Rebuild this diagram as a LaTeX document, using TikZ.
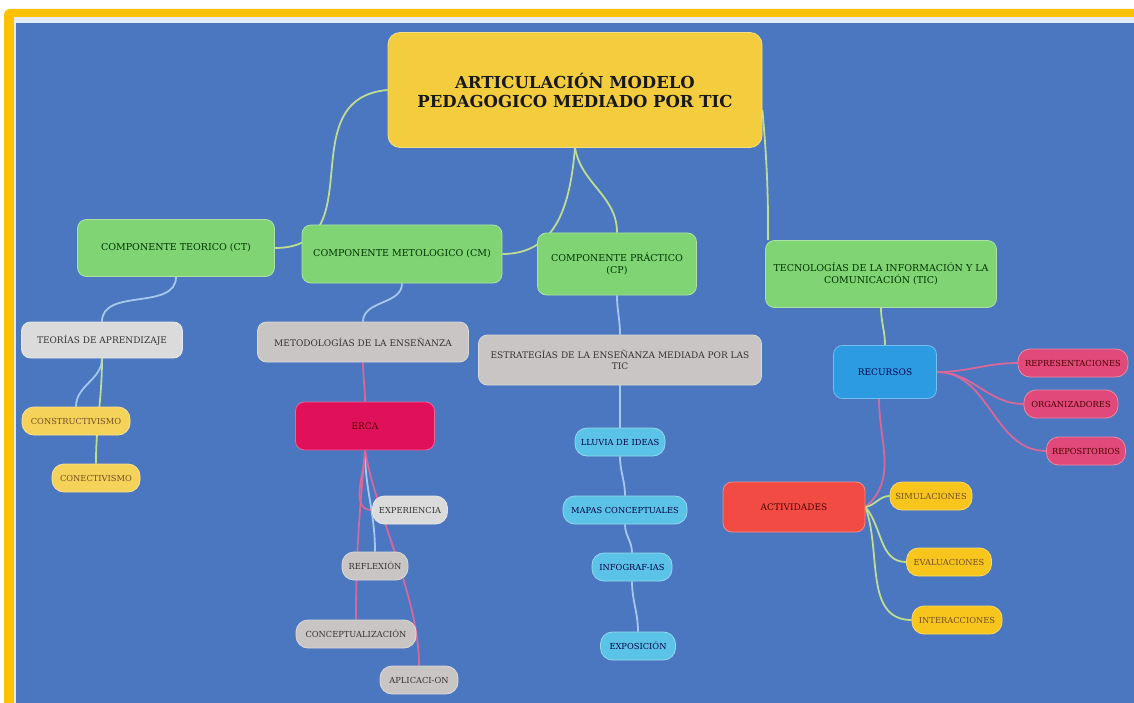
\documentclass[tikz,border=0pt]{standalone}
\usepackage{fontspec}
\setmainfont{DejaVu Serif}
\usetikzlibrary{backgrounds}

\definecolor{bgblue}{HTML}{4A77BF}
\definecolor{frameyel}{HTML}{FFC000}
\definecolor{titleyel}{HTML}{F3CD3E}
\definecolor{compgreen}{HTML}{80D474}
\definecolor{lightgray}{HTML}{DADBDA}
\definecolor{midgray}{HTML}{C8C5C4}
\definecolor{ercared}{HTML}{E0105A}
\definecolor{recblue}{HTML}{2C9BE2}
\definecolor{pinkish}{HTML}{E0497A}
\definecolor{actred}{HTML}{F24B43}
\definecolor{pillyel}{HTML}{F7C51C}
\definecolor{softyel}{HTML}{F5D35A}
\definecolor{cyanish}{HTML}{5CC3E8}
\definecolor{linkgreen}{HTML}{BEDC92}
\definecolor{linkblue}{HTML}{A6C8EE}
\definecolor{linkpink}{HTML}{D8679A}

\pgfdeclarelayer{links}
\pgfsetlayers{background,links,main}

\begin{document}
\begin{tikzpicture}[x=1pt, y=-1pt,
	box/.style={rectangle, rounded corners=9pt, align=center, inner sep=2pt, text=black!80, font=\fontsize{9}{11}\selectfont, draw=white!35!#1, line width=0.8pt, fill=#1},
	compbox/.style={box=compgreen, text=green!20!black, font=\fontsize{9.5}{11.5}\selectfont},
	pill/.style={rectangle, rounded corners=12pt, align=center, inner sep=2pt, minimum height=28pt, text=black!80, font=\fontsize{8.3}{10}\selectfont, draw=white!35!#1, line width=0.8pt, fill=#1},
	link/.style={line width=1.8pt, #1},
	link/.default=linkblue]
	\useasboundingbox (0,0) rectangle (1134,703);
	\begin{pgfonlayer}{background}
		\fill[white] (0,0) rectangle (1134,703);
		\fill[frameyel, rounded corners=6pt] (4,9) rectangle (1150,720);
		\fill[white!85!bgblue] (14,17) rectangle (1150,720);
		\fill[bgblue] (16,23) rectangle (1150,720);
	\end{pgfonlayer}

	\node[box=titleyel, minimum width=374pt, minimum height=115pt, rounded corners=12pt, font=\fontsize{16.5}{19}\selectfont\bfseries, text=black!90] (title) at (575,90) {ARTICULACIÓN MODELO\\PEDAGOGICO MEDIADO POR TIC};

	\node[compbox, minimum width=197pt, minimum height=57pt] (ct) at (176,248) {COMPONENTE TEORICO (CT)};
	\node[compbox, minimum width=200pt, minimum height=58pt] (cm) at (402,254) {COMPONENTE METOLOGICO (CM)};
	\node[compbox, minimum width=159pt, minimum height=62pt] (cp) at (617,264) {COMPONENTE PRÁCTICO\\(CP)};
	\node[compbox, minimum width=231pt, minimum height=67pt] (tic) at (881,274) {TECNOLOGÍAS DE LA INFORMACIÓN Y LA\\COMUNICACIÓN (TIC)};

	\node[box=lightgray, minimum width=161pt, minimum height=36pt] (teorias) at (102,340) {TEORÍAS DE APRENDIZAJE};
	\node[pill=softyel, minimum width=108pt, text=brown!60!black] (constr) at (76,421) {CONSTRUCTIVISMO};
	\node[pill=softyel, minimum width=88pt, text=brown!60!black] (conect) at (96,478) {CONECTIVISMO};

	\node[box=midgray, minimum width=211pt, minimum height=40pt] (metod) at (363,342) {METODOLOGÍAS DE LA ENSEÑANZA};
	\node[box=ercared, minimum width=139pt, minimum height=48pt, text=red!30!black] (erca) at (365,426) {ERCA};
	\node[pill=lightgray, minimum width=75pt] (exper) at (410,510) {EXPERIENCIA};
	\node[pill=midgray, minimum width=66pt] (reflex) at (375,566) {REFLEXIÓN};
	\node[pill=midgray, minimum width=120pt] (concep) at (356,634) {CONCEPTUALIZACIÓN};
	\node[pill=midgray, minimum width=78pt] (aplic) at (419,680) {APLICACI-ON};

	\node[box=midgray, minimum width=283pt, minimum height=50pt] (estrat) at (620,360) {ESTRATEGÍAS DE LA ENSEÑANZA MEDIADA POR LAS\\TIC};
	\node[pill=cyanish, minimum width=90pt, text=blue!25!black] (lluvia) at (620,442) {LLUVIA DE IDEAS};
	\node[pill=cyanish, minimum width=124pt, text=blue!25!black] (mapas) at (625,510) {MAPAS CONCEPTUALES};
	\node[pill=cyanish, minimum width=80pt, text=blue!25!black] (infog) at (632,567) {INFOGRAF-IAS};
	\node[pill=cyanish, minimum width=75pt, text=blue!25!black] (expos) at (638,646) {EXPOSICIÓN};

	\node[box=recblue, minimum width=103pt, minimum height=53pt, text=blue!30!black] (recursos) at (885,372) {RECURSOS};
	\node[pill=pinkish, minimum width=110pt, text=red!30!black] (repres) at (1073,363) {REPRESENTACIONES};
	\node[pill=pinkish, minimum width=94pt, text=red!30!black] (organ) at (1071,404) {ORGANIZADORES};
	\node[pill=pinkish, minimum width=79pt, text=red!30!black] (repos) at (1086,451) {REPOSITORIOS};

	\node[box=actred, minimum width=142pt, minimum height=50pt, text=red!30!black] (activ) at (794,507) {ACTIVIDADES};
	\node[pill=pillyel, minimum width=82pt, text=brown!60!black] (simul) at (931,496) {SIMULACIONES};
	\node[pill=pillyel, minimum width=85pt, text=brown!60!black] (evalu) at (949,562) {EVALUACIONES};
	\node[pill=pillyel, minimum width=90pt, text=brown!60!black] (inter) at (957,620) {INTERACCIONES};

	\begin{pgfonlayer}{links}
		\draw[link=linkgreen] (title.west) to[out=185, in=0, looseness=1.3] (ct.east);
		\draw[link=linkgreen] (title.south) to[out=265, in=0, looseness=1.1] (cm.east);
		\draw[link=linkgreen] (title.south) to[out=280, in=90] (cp.north);
		\draw[link=linkgreen] ([yshift=-20pt]title.east) to[out=-85, in=90] ([xshift=3pt]tic.north west);

		\draw[link] (ct.south) to[out=-90, in=90] (teorias.north);
		\draw[link] (teorias.south) to[out=-90, in=90] (constr.north);
		\draw[link=linkgreen] (teorias.south) to[out=-90, in=90] (conect.north);

		\draw[link] (cm.south) to[out=-90, in=90] (metod.north);
		\draw[link=linkpink] (metod.south) to[out=-90, in=90] (erca.north);
		\draw[link=linkpink] (erca.south) to[out=-90, in=180] (exper.west);
		\draw[link] (erca.south) to[out=-90, in=90] (reflex.north);
		\draw[link=linkpink] (erca.south) to[out=-95, in=90] (concep.north);
		\draw[link=linkpink] (erca.south) to[out=-80, in=90, looseness=0.8] (aplic.north);

		\draw[link] (cp.south) to[out=-90, in=90] (estrat.north);
		\draw[link] (estrat.south) to[out=-90, in=90] (lluvia.north);
		\draw[link] (lluvia.south) to[out=-90, in=90] (mapas.north);
		\draw[link] (mapas.south) to[out=-90, in=90] (infog.north);
		\draw[link] (infog.south) to[out=-90, in=90] (expos.north);

		\draw[link=linkgreen] (tic.south) to[out=-90, in=90] (recursos.north);
		\draw[link=linkpink] (recursos.east) to[out=0, in=180] (repres.west);
		\draw[link=linkpink] (recursos.east) to[out=0, in=180] (organ.west);
		\draw[link=linkpink] (recursos.east) to[out=0, in=180] (repos.west);
		\draw[link=linkpink] ([xshift=-6pt]recursos.south) to[out=-90, in=40] (activ.east);

		\draw[link=linkgreen] (activ.east) to[out=10, in=180] (simul.west);
		\draw[link=linkgreen] (activ.east) to[out=-50, in=180] (evalu.west);
		\draw[link=linkgreen] (activ.east) to[out=-70, in=180] (inter.west);
	\end{pgfonlayer}
\end{tikzpicture}
\end{document}
